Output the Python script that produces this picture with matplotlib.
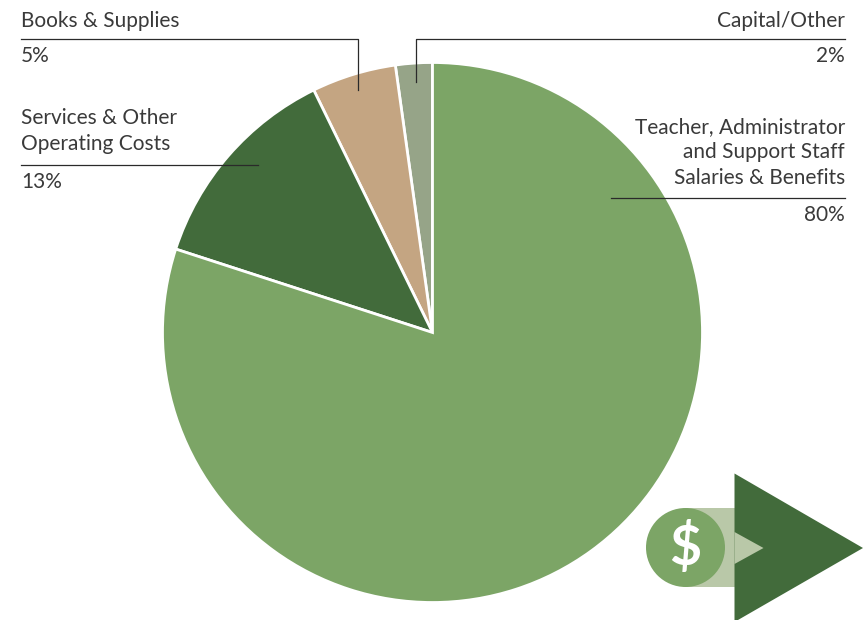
import matplotlib
matplotlib.use('Agg')
import matplotlib.pyplot as plt
from matplotlib.patches import Circle, Polygon

# counter-clockwise from 12 o'clock, angles
slices = ['Capital/Other', 'Books & Supplies', 'Services & Other Operating Costs',
          'Teacher, Administrator and Support Staff Salaries & Benefits']
values = [2.2, 5.05, 12.75, 80]
colors = ['#96a488', '#c4a582', '#426b3b', '#7ca566']

plt.rcParams['font.family'] = ['Lato', 'DejaVu Sans']

W, H = 863, 620
fig = plt.figure(figsize=(W / 100, H / 100), dpi=100)

cx, cy, r = 432.5, 332.5, 270
pie_ax = fig.add_axes([(cx - r) / W, 1 - (cy + r) / H, 2 * r / W, 2 * r / H])
pie_ax.pie(values, colors=colors, startangle=90, counterclock=True, radius=1,
           wedgeprops={'edgecolor': 'white', 'linewidth': 2})
pie_ax.set_xlim(-1, 1)
pie_ax.set_ylim(-1, 1)

# everything else goes on in pixel coordinates, y flipped
overlay = fig.add_axes([0, 0, 1, 1])
overlay.set_xlim(0, W)
overlay.set_ylim(H, 0)
overlay.axis('off')
overlay.patch.set_alpha(0)

txt = {'fontsize': 15.05, 'color': '#3a3a3a', 'va': 'center'}
ln = {'color': '#2a2a2a', 'lw': 0.9}

overlay.text(21, 21, 'Books & Supplies', ha='left', **txt)
overlay.text(21, 56, '5%', ha='left', **txt)
overlay.plot([21, 358, 358], [38.5, 38.5, 90], **ln)

overlay.text(845, 21, 'Capital/Other', ha='right', **txt)
overlay.text(845, 56, '2%', ha='right', **txt)
overlay.plot([845, 416, 416], [38.5, 38.5, 82], **ln)

overlay.text(21, 118, 'Services & Other', ha='left', **txt)
overlay.text(21, 144, 'Operating Costs', ha='left', **txt)
overlay.text(21, 182, '13%', ha='left', **txt)
overlay.plot([21, 258], [164.5, 164.5], **ln)

overlay.text(845, 127, 'Teacher, Administrator', ha='right', **txt)
overlay.text(845, 152, 'and Support Staff', ha='right', **txt)
overlay.text(845, 178, 'Salaries & Benefits', ha='right', **txt)
overlay.text(845, 215, '80%', ha='right', **txt)
overlay.plot([611, 845], [198, 198], **ln)

# dollar arrow logo
overlay.add_patch(Polygon([[686, 508], [735, 508], [735, 587], [686, 587]], color='#b9c8a8', lw=0))
overlay.add_patch(Polygon([[734.5, 473.5], [863, 548], [734.5, 622]], color='#426b3b', lw=0))
overlay.add_patch(Polygon([[734.5, 532], [763.5, 548], [734.5, 564]], color='#b9c8a8', lw=0))
overlay.add_patch(Circle((685.5, 547.5), 39.5, color='#7ca566', lw=0))
overlay.text(685.5, 547, '$', color='white', fontsize=40, ha='center', va='center', fontweight='bold')

fig.savefig('out.png', dpi=100)
